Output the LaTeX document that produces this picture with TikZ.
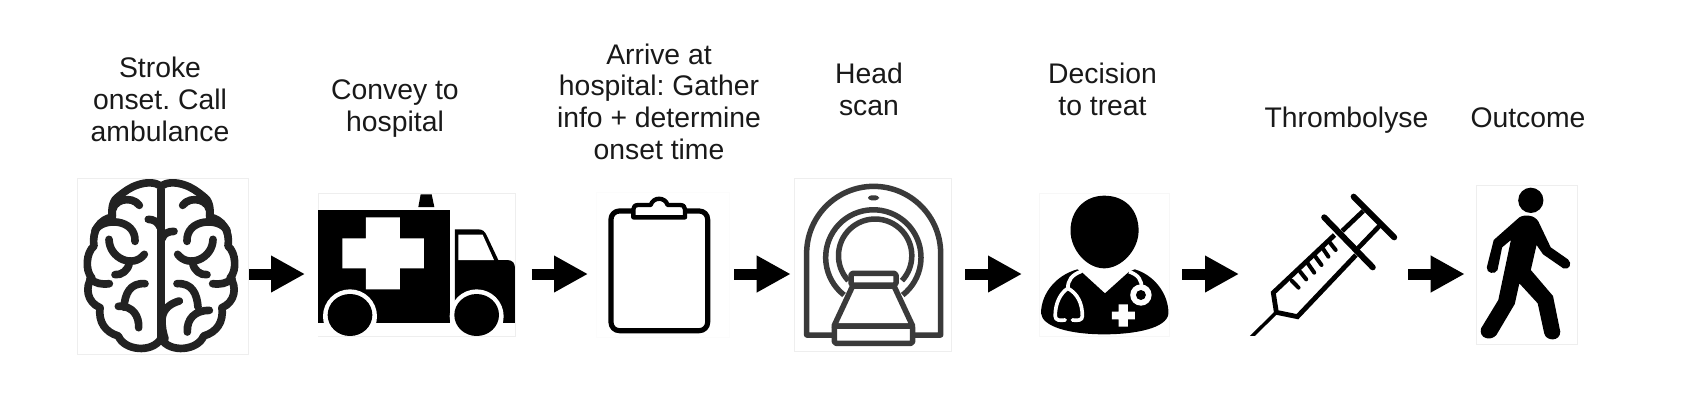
\documentclass[tikz,border=0pt]{standalone}
\usepackage{fontspec}
\setmainfont{Liberation Sans}
\usetikzlibrary{arrows.meta}
\frenchspacing
\definecolor{boxgray}{HTML}{EEEEEE}
\definecolor{brainink}{HTML}{222222}
\definecolor{ctink}{HTML}{3A3A3A}
\tikzset{
  x=0.6pt,y=-0.6pt,
  label text/.style={font=\fontsize{17pt}{19.1pt}\selectfont,align=center,text=black!90,inner sep=0pt,anchor=base},
  imgbox/.style={draw=boxgray,line width=0.6pt,fill=white,inner sep=0pt,outer sep=0pt,anchor=north west},
  blockarrow/.style={-{Triangle[length=20.4pt,width=20.7pt]},line width=6.6pt,black},
  zA/.style={shift={(50,160)},xscale=1/3,yscale=1/3},
  zB/.style={shift={(570,160)},xscale=1/3,yscale=1/3},
  zC/.style={shift={(1020,160)},xscale=1/2.6133,yscale=1/3},
  brainline/.style={draw=brainink,line width=4.6pt,line cap=round,line join=round},
  ctline/.style={draw=ctink,line width=3.3pt,line join=round},
  clipline/.style={draw=black,line width=3.1pt,line join=round},
}
\begin{document}
\begin{tikzpicture}
\useasboundingbox (0,0) rectangle (1697,400);
\fill[white] (0,0) rectangle (1697,400);
% image boxes
\node[imgbox,minimum width=102.6pt,minimum height=105.6pt] (brain) at (77,178) {};
\node[imgbox,minimum width=118.2pt,minimum height=85.8pt] (amb) at (318,193.3) {};
\node[imgbox,draw=white!99!black,minimum width=80pt,minimum height=87pt] (clip) at (596,192) {};
\node[imgbox,minimum width=94.4pt,minimum height=104pt] (ct) at (794.3,178.3) {};
\node[imgbox,draw=white!97!black,minimum width=78pt,minimum height=85.8pt] (doc) at (1039,193) {};
\node[imgbox,minimum width=60.6pt,minimum height=95.4pt] (walk) at (1476,185) {};
% labels
\node[label text] (t1) at (160,141) {Stroke\\onset. Call\\ambulance};
\node[label text] (t2) at (395,131) {Convey to\\hospital};
\node[label text] (t3) at (659,159.5) {Arrive at\\hospital: Gather\\info + determine\\onset time};
\node[label text] (t4) at (869,115.5) {Head\\scan};
\node[label text] (t5) at (1102.5,115.5) {Decision\\to treat};
\node[label text] (t6) at (1346.5,127.5) {Thrombolyse};
\node[label text] (t7) at (1528,127.5) {Outcome};
% arrows
\coordinate (a1s) at (249,274); \coordinate (a1e) at (305,274);
\coordinate (a2s) at (531.7,274); \coordinate (a2e) at (588,274);
\coordinate (a3s) at (734,274); \coordinate (a3e) at (790.7,274);
\coordinate (a4s) at (965.3,274); \coordinate (a4e) at (1022,274);
\coordinate (a5s) at (1182.2,274); \coordinate (a5e) at (1239,274);
\coordinate (a6s) at (1408,274); \coordinate (a6e) at (1464.7,274);
\foreach \i in {1,...,6}{\draw[blockarrow] (a\i s) -- (a\i e);}
% brain
\begin{scope}[shift={(0,2)},zA]
 \newcommand{\brainhalf}{%
  \draw[brainline] (333,72) .. controls (315,60) and (290,60) .. (265,68)
    .. controls (240,76) and (225,88) .. (207,102)
    .. controls (190,112) and (183,135) .. (187,165)
    .. controls (150,172) and (125,205) .. (132,252)
    .. controls (108,272) and (105,325) .. (125,347)
    .. controls (105,375) and (110,420) .. (150,437)
    .. controls (145,480) and (165,510) .. (205,522)
    .. controls (222,565) and (305,575) .. (333,530);
  \draw[brainline] (187,160) .. controls (180,112) and (245,98) .. (268,130);
  \draw[brainline] (135,205) .. controls (160,165) and (258,170) .. (255,238);
  \draw[brainline] (177,232) .. controls (178,290) and (250,320) .. (283,277);
  \draw[brainline] (238,302) .. controls (235,325) and (215,340) .. (195,338);
  \draw[brainline] (120,349) .. controls (135,365) and (155,368) .. (178,365);
  \draw[brainline] (285,365) .. controls (240,362) and (225,395) .. (222,435);
 }
 \brainhalf
 \begin{scope}[shift={(666,0)},xscale=-1] \brainhalf \end{scope}
 \draw[brainline] (333,82) -- (333,525);
 \draw[brainline] (205,433) .. controls (250,430) and (268,465) .. (266,497);
 \draw[brainline] (295,172) .. controls (310,172) and (325,180) .. (330,195);
 \draw[brainline] (372,208) .. controls (355,208) and (340,215) .. (336,230);
 \draw[brainline] (388,417) .. controls (360,425) and (340,440) .. (336,470);
 \draw[brainline] (478,445) .. controls (435,445) and (410,470) .. (412,510);
 \draw[brainline] (336,470) .. controls (335,495) and (340,515) .. (345,530);
\end{scope}
\begin{scope}[zA]
 % ambulance
 \fill[black] (805,149) rectangle (1200,490);
 \fill[black] (1215,208) -- (1285,208) .. controls (1298,208) and (1305,215) .. (1310,226)
   -- (1345,300) -- (1372,300) .. controls (1388,300) and (1395,310) .. (1395,325)
   -- (1395,490) -- (1215,490) -- cycle;
 \fill[white] (1225,224) -- (1298,224) -- (1332,300) -- (1225,300) -- cycle;
 \fill[white] (948,172) -- (1050,172) -- (1050,235) -- (1122,235) -- (1122,325) -- (1050,325)
   -- (1050,388) -- (948,388) -- (948,325) -- (877,325) -- (877,235) -- (948,235) -- cycle;
 \fill[black] (1112,103) -- (1145,103) -- (1153,141) -- (1105,141) -- cycle;
 \fill[white] (900,469) circle[radius=81];
 \fill[white] (1280,469) circle[radius=81];
 \fill[white] (805,490) rectangle (1396,527);
 \fill[black] (900,465) ellipse[x radius=67,y radius=63];
 \fill[black] (1280,465) ellipse[x radius=67,y radius=63];
 \draw[boxgray,line width=0.6pt] (805,528) -- (1396,528);
\end{scope}
% clipboard and CT
\begin{scope}[zB]
 \draw[clipline,rounded corners=5pt] (123,153) rectangle (413,512);
 \draw[clipline,fill=white,line width=2.6pt] (190,172) -- (190,148) .. controls (190,140) and (195,135) .. (205,135)
   -- (242,135) .. controls (250,110) and (285,110) .. (293,135)
   -- (330,135) .. controls (340,135) and (345,140) .. (345,148) -- (345,172) -- cycle;
 % CT
 \draw[ctline] (790,525) -- (710,525) -- (710,280) arc[start angle=180,end angle=360,radius=201] -- (1112,525) -- (1030,525);
 \fill[ctink,rounded corners=2pt] (894,106) rectangle (927,121);
 \draw[ctline] (822,405) arc[start angle=128,end angle=412,radius=143];
 \draw[ctline] (835,362) arc[start angle=137,end angle=403,radius=110];
 \draw[ctline,fill=white,rounded corners=1pt] (843,340) rectangle (978,375);
 \draw[ctline,fill=white] (848,378) -- (972,378) -- (1028,498) -- (792,498) -- cycle;
 \draw[ctline,fill=white,rounded corners=1pt] (793,498) rectangle (1028,550);
\end{scope}
% doctor, syringe, walker
\begin{scope}[zC]
 \fill[black] (220,107) .. controls (275,107) and (310,150) .. (310,212)
   .. controls (310,270) and (265,325) .. (220,325)
   .. controls (175,325) and (132,270) .. (132,212)
   .. controls (132,150) and (170,107) .. (220,107) -- cycle;
 \fill[black] (55,460) .. controls (55,400) and (95,345) .. (150,328) -- (160,335) -- (222,400) -- (285,335) -- (300,328)
   .. controls (350,345) and (388,400) .. (388,460)
   .. controls (385,505) and (300,523) .. (220,523)
   .. controls (130,523) and (58,500) .. (55,460) -- cycle;
 \draw[white,line width=2.2pt,line cap=round,line join=round]
   (160,334) .. controls (135,345) and (125,360) .. (125,385)
   (118,480) .. controls (105,482) and (92,482) .. (92,468) .. controls (92,430) and (105,400) .. (125,385)
   .. controls (150,400) and (163,430) .. (163,468) .. controls (163,482) and (150,482) .. (137,480);
 \draw[white,line width=2.2pt] (285,335) .. controls (310,345) and (318,360) .. (318,385);
 \fill[white] (316,405) ellipse[x radius=28,y radius=32];
 \fill[black] (316,405) ellipse[x radius=13,y radius=15];
 \fill[white] (258,433) -- (282,433) -- (282,455) -- (300,455) -- (300,478) -- (282,478) -- (282,500) -- (258,500)
   -- (258,478) -- (240,478) -- (240,455) -- (258,455) -- cycle;
 % syringe
 \draw[black,line width=2.9pt,line join=miter] (822,225) -- (662,398) -- (670,457) -- (725,470) -- (878,285);
 \begin{scope}
  \clip (590,400) rectangle (700,527);
  \draw[black,line width=2.1pt] (670,457) -- (600,536);
 \end{scope}
 \draw[black,line width=3.6pt,line cap=round] (795,172) -- (922,322);
 \draw[black,line width=3.6pt,line cap=round] (872,110) -- (978,232);
 \draw[black,line width=2.8pt] (842,213) -- (897,153) (883,265) -- (940,197);
 \draw[black,line width=2.4pt,line cap=round] (710,362) -- (728,383) (732,335) -- (748,358) (752,310) -- (769,338)
   (772,290) -- (788,315) (793,268) -- (806,290) (810,248) -- (825,270);
 % walker
 \fill[black] (1335,121) ellipse[x radius=33,y radius=38];
 \fill[black] (1305,172) .. controls (1320,162) and (1345,165) .. (1355,185) -- (1387,262) -- (1432,298)
   .. controls (1445,310) and (1435,332) .. (1420,325) -- (1367,283) -- (1350,255) -- (1335,330) -- (1393,408) -- (1412,515)
   .. controls (1412,545) and (1375,545) .. (1370,520) -- (1353,430) -- (1305,370) -- (1293,432) -- (1245,525)
   .. controls (1230,545) and (1198,535) .. (1205,505) -- (1250,420) -- (1283,240) -- (1260,262) -- (1248,330)
   .. controls (1242,345) and (1218,340) .. (1220,322) -- (1238,240) -- cycle;
\end{scope}
\end{tikzpicture}
\end{document}
